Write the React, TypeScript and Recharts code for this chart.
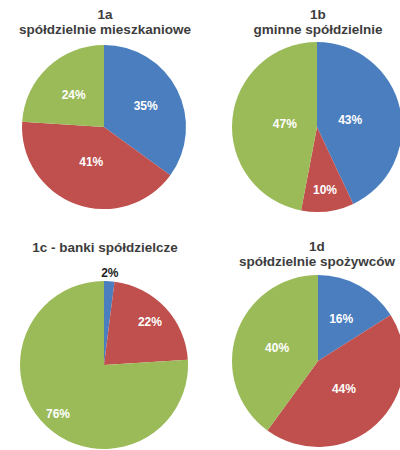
import React from 'react';
import { PieChart, Pie, Cell } from 'recharts';

const CATEGORIES = ['kategoria 1', 'kategoria 2', 'kategoria 3'];
const VALUES_1A = [35, 41, 24];
const VALUES_1B = [43, 10, 47];
const VALUES_1C = [2, 22, 76];
const VALUES_1D = [16, 44, 40];
const TITLES_1A = ['1a', 'spółdzielnie mieszkaniowe'];
const TITLES_1B = ['1b', 'gminne spółdzielnie'];
const TITLES_1C = ['1c - banki spółdzielcze'];
const TITLES_1D = ['1d', 'spółdzielnie spożywców'];

const COLORS = ['#4a7ebf', '#c0504d', '#9bbb59'];
const RADIAN = Math.PI / 180;

const build = (vals: number[]) => CATEGORIES.map((name, i) => ({ name, value: vals[i] }));

const CHARTS = [
  { key: 'a', data: build(VALUES_1A), titles: TITLES_1A, cx: 104, cy: 127, r: 82, lr: [0.57, 0.46, 0.54], tx: 105, ty: 7 },
  { key: 'b', data: build(VALUES_1B), titles: TITLES_1B, cx: 317, cy: 127, r: 85, lr: [0.4, 0.75, 0.38], tx: 318, ty: 7 },
  { key: 'c', data: build(VALUES_1C), titles: TITLES_1C, cx: 104, cy: 365, r: 84, lr: [1.1, 0.75, 0.8], tx: 105, ty: 240 },
  { key: 'd', data: build(VALUES_1D), titles: TITLES_1D, cx: 318, cy: 361, r: 86, lr: [0.56, 0.44, 0.5], tx: 317, ty: 239 },
];

const makeLabel = (lr: number[]) => (props: any) => {
  const { cx, cy, midAngle, outerRadius, value, index } = props;
  const rr = outerRadius * lr[index];
  const x = cx + rr * Math.cos(-midAngle * RADIAN);
  const y = cy + rr * Math.sin(-midAngle * RADIAN);
  const outside = lr[index] > 1;
  return (
    <text
      x={x}
      y={y}
      fill={outside ? '#222' : '#ffffff'}
      textAnchor="middle"
      dominantBaseline="central"
      fontFamily="'Liberation Sans', Arial, sans-serif"
      fontWeight="bold"
      fontSize={12}
    >
      {`${value}%`}
    </text>
  );
};

export default function App() {
  return (
    <div style={{ position: 'absolute', left: 0, top: 0, width: 400, height: 450, overflow: 'hidden', background: '#fff' }}>
      <PieChart width={400} height={450} margin={{ top: 0, right: 0, bottom: 0, left: 0 }} style={{ position: 'absolute', left: 0, top: 0 }}>
        {CHARTS.map((c) => (
          <Pie
            key={c.key}
            data={c.data}
            dataKey="value"
            nameKey="name"
            cx={c.cx}
            cy={c.cy}
            outerRadius={c.r}
            startAngle={90}
            endAngle={-270}
            stroke="none"
            labelLine={false}
            label={makeLabel(c.lr)}
            isAnimationActive={false}
          >
            {c.data.map((d, i) => (
              <Cell key={d.name} fill={COLORS[i]} />
            ))}
          </Pie>
        ))}
      </PieChart>
      {CHARTS.map((c) => (
        <div
          key={'t' + c.key}
          style={{
            position: 'absolute',
            left: c.tx - 100,
            top: c.ty,
            width: 200,
            textAlign: 'center',
            fontFamily: "'Liberation Sans', Arial, sans-serif",
            fontWeight: 'bold',
            fontSize: 13.5,
            lineHeight: '15px',
            color: '#3d3d3d',
            whiteSpace: 'nowrap',
          }}
        >
          {c.titles.map((t) => (
            <div key={t}>{t}</div>
          ))}
        </div>
      ))}
    </div>
  );
}
